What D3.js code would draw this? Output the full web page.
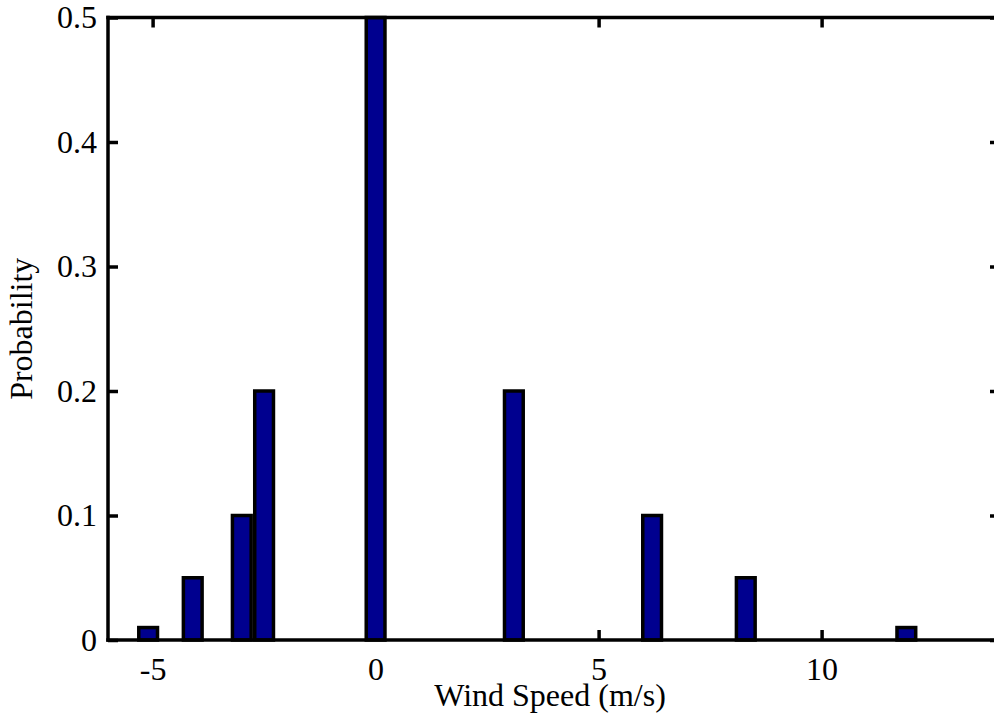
<!DOCTYPE html>
<html>
<head>
<meta charset="utf-8">
<script src="https://cdn.jsdelivr.net/npm/d3@7"></script>
<style>
  html, body { margin: 0; padding: 0; background: #fff; }
  svg { display: block; }
  text { font-family: "Liberation Serif", "Times New Roman", serif; fill: #000; }
</style>
</head>
<body>
<svg id="chart" width="994" height="727"></svg>
<script>
// ---- data ----
const binCenters = [-5.1, -4.1, -3.0, -2.5, 0.0, 3.1, 6.2, 8.3, 11.9];
const probabilities = [0.01, 0.05, 0.1, 0.2, 0.5, 0.2, 0.1, 0.05, 0.01];
const xTickValues = [-5, 0, 5, 10];
const xTickLabels = ["-5", "0", "5", "10"];
const yTickValues = [0, 0.1, 0.2, 0.3, 0.4, 0.5];
const yTickLabels = ["0", "0.1", "0.2", "0.3", "0.4", "0.5"];
const xDomain = [-6, 14];
const yDomain = [0, 0.5];
const barWidthUnits = 0.42;
const xTitle = "Wind Speed (m/s)";
const yTitle = "Probability";

(function () {
// ---- layout ----
const svg = d3.select("#chart");
const pLeft = 108, pRight = 1000, pTop = 17.5, pBottom = 640;
const x = d3.scaleLinear().domain(xDomain).range([pLeft, pRight]);
const y = d3.scaleLinear().domain(yDomain).range([pBottom, pTop]);
const fontSize = 32;
const lw = 3.5;
const tickLen = 10;

// ticks (drawn under bars)
const gBottom = svg.append("g").attr("transform", `translate(0,${pBottom})`)
  .call(d3.axisBottom(x).tickValues(xTickValues)
    .tickFormat((d, i) => xTickLabels[i])
    .tickSizeInner(-tickLen).tickSizeOuter(0).tickPadding(17));
const gTop = svg.append("g").attr("transform", `translate(0,${pTop})`)
  .call(d3.axisTop(x).tickValues(xTickValues).tickFormat("")
    .tickSizeInner(-tickLen).tickSizeOuter(0));
const gLeft = svg.append("g").attr("transform", `translate(${pLeft},0)`)
  .call(d3.axisLeft(y).tickValues(yTickValues)
    .tickFormat((d, i) => yTickLabels[i])
    .tickSizeInner(-tickLen).tickSizeOuter(0).tickPadding(11));
const gRight = svg.append("g").attr("transform", `translate(${pRight},0)`)
  .call(d3.axisRight(y).tickValues(yTickValues).tickFormat("")
    .tickSizeInner(-tickLen).tickSizeOuter(0));

[gBottom, gTop, gLeft, gRight].forEach(g => {
  g.selectAll("line").attr("stroke", "#000").attr("stroke-width", lw);
  g.select(".domain").attr("stroke", "none");
  g.selectAll("text").attr("font-size", fontSize)
    .attr("font-family", "'Liberation Serif', 'Times New Roman', serif")
    .attr("fill", "#000");
});

// bars
const halfW = (x(barWidthUnits) - x(0)) / 2;
svg.append("g").selectAll("rect")
  .data(binCenters.map((c, i) => ({ c, p: probabilities[i] })))
  .join("rect")
  .attr("x", d => x(d.c) - halfW)
  .attr("width", halfW * 2)
  .attr("y", d => y(d.p))
  .attr("height", d => y(0) - y(d.p))
  .attr("fill", "#00008F")
  .attr("stroke", "#000")
  .attr("stroke-width", 3.5);

// frame lines
svg.append("g").attr("stroke", "#000").attr("stroke-width", lw).attr("stroke-linecap", "square")
  .selectAll("line")
  .data([
    [pLeft, pBottom, pRight, pBottom],
    [pLeft, pTop, pRight, pTop],
    [pLeft, pTop, pLeft, pBottom],
    [pRight, pTop, pRight, pBottom]
  ])
  .join("line")
  .attr("x1", d => d[0]).attr("y1", d => d[1])
  .attr("x2", d => d[2]).attr("y2", d => d[3]);

// titles
svg.append("text")
  .attr("x", 550).attr("y", 706)
  .attr("text-anchor", "middle")
  .attr("font-size", fontSize)
  .text(xTitle);
svg.append("text")
  .attr("transform", `translate(32,${(pTop + pBottom) / 2}) rotate(-90)`)
  .attr("text-anchor", "middle")
  .attr("font-size", fontSize)
  .text(yTitle);
})();
</script>
</body>
</html>
